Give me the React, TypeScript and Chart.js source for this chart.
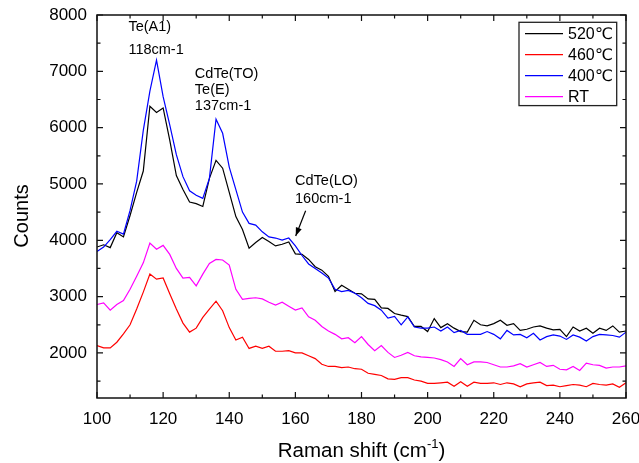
import React, { useEffect, useRef } from "react";
import { Chart, registerables } from "chart.js";

Chart.register(...registerables);

// Raman shift (cm-1)
const ramanShift = [
  100, 102, 104, 106, 108, 110, 112, 114, 116, 118, 120, 122, 124, 126, 128, 130, 132, 134, 136, 138,
  140, 142, 144, 146, 148, 150, 152, 154, 156, 158, 160, 162, 164, 166, 168, 170, 172, 174, 176, 178,
  180, 182, 184, 186, 188, 190, 192, 194, 196, 198, 200, 202, 204, 206, 208, 210, 212, 214, 216, 218,
  220, 222, 224, 226, 228, 230, 232, 234, 236, 238, 240, 242, 244, 246, 248, 250, 252, 254, 256, 258, 260,
];

const counts520 = [
  3880, 3920, 3870, 4135, 4060, 4440, 4850, 5230, 6380, 6270, 6350, 5780, 5150, 4900, 4680, 4650, 4600, 5100, 5420, 5280,
  4850, 4420, 4190, 3860, 3960, 4050, 3980, 3900, 3930, 3970, 3760, 3750, 3660, 3530, 3470, 3360, 3090, 3200, 3130, 3060,
  3050, 2960, 2950, 2800, 2790, 2700, 2670, 2645, 2470, 2470, 2380, 2610, 2450, 2520, 2440, 2380, 2370, 2580, 2500, 2480,
  2520, 2580, 2490, 2520, 2400, 2420, 2460, 2480, 2440, 2410, 2420, 2290, 2460, 2390, 2440, 2350, 2440, 2400, 2480, 2370, 2390,
];

const counts460 = [
  2130, 2090, 2090, 2190, 2340, 2500, 2780, 3080, 3400, 3310, 3330, 3050, 2780, 2530, 2370, 2440, 2630, 2780, 2920, 2750,
  2450, 2230, 2280, 2080, 2120, 2080, 2120, 2030, 2030, 2040, 2000, 2000, 1950, 1900, 1800, 1760, 1760, 1740, 1750, 1720,
  1710, 1640, 1620, 1600, 1540, 1530, 1560, 1560, 1520, 1500, 1460, 1460, 1470, 1480, 1410, 1490, 1410, 1480, 1460, 1460,
  1470, 1440, 1470, 1450, 1400, 1450, 1470, 1480, 1420, 1430, 1400, 1420, 1440, 1430, 1400, 1460, 1440, 1430, 1450, 1390, 1470,
];

const counts400 = [
  3800, 3880, 4010, 4160, 4110, 4530, 5050, 5950, 6650, 7200, 6550, 6050, 5520, 5130, 4880, 4800, 4745, 5100, 6150, 5900,
  5300, 4900, 4500, 4300, 4270, 4150, 4060, 4040, 4005, 4040, 3900, 3730, 3580, 3500, 3420, 3330, 3130, 3090, 3110, 3060,
  2980, 2880, 2840, 2760, 2620, 2650, 2500, 2640, 2460, 2440, 2440, 2460, 2390, 2460, 2360, 2400, 2330, 2330, 2330, 2380,
  2330, 2250, 2400, 2320, 2330, 2270, 2350, 2230, 2290, 2320, 2300, 2240, 2320, 2280, 2210, 2290, 2330, 2320, 2310, 2280, 2370,
];

const countsRT = [
  2860, 2890, 2760, 2860, 2930, 3130, 3360, 3600, 3950, 3840, 3910, 3750, 3500, 3330, 3340, 3190, 3400, 3590, 3660, 3650,
  3560, 3130, 2950, 2970, 2980, 2960, 2900, 2850, 2900, 2830, 2760, 2800, 2640, 2580, 2470, 2390, 2330, 2250, 2270, 2180,
  2290, 2150, 2040, 2130, 2010, 1920, 1960, 2010, 1950, 1930, 1920, 1910, 1880, 1840, 1760, 1900, 1790, 1840, 1840, 1830,
  1790, 1750, 1750, 1770, 1810, 1750, 1790, 1830, 1760, 1780, 1710, 1700, 1760, 1690, 1820, 1790, 1780, 1730, 1750, 1750, 1770,
];

const seriesLabels = ["520℃", "460℃", "400℃", "RT"];
const seriesColors = ["#000000", "#ff0000", "#0000ff", "#ff00ff"];

const xTicks = [100, 120, 140, 160, 180, 200, 220, 240, 260];
const yTicks = [2000, 3000, 4000, 5000, 6000, 7000, 8000];
const xMin = 100;
const xMax = 260;
const yMin = 1200;
const yMax = 8000;

// Peak annotations (anchored in data coordinates)
const noteTexts = ["Te(A1)", "118cm-1", "CdTe(TO)", "Te(E)", "137cm-1", "CdTe(LO)", "160cm-1"];
const noteX = [109.5, 109.5, 129.6, 129.6, 129.6, 159.9, 159.9];
const noteY = [7711, 7303, 6890, 6606, 6310, 4980, 4656];
const arrowFrom = [163.1, 4525];
const arrowTo = [160.1, 4075];

const FONT = "'Liberation Sans', Arial, 'DejaVu Sans', sans-serif";

function toPoints(values: number[]) {
  return values.map((v, i) => ({ x: ramanShift[i], y: v }));
}

const decorPlugin = {
  id: "decor",
  afterDatasetsDraw(chart: any) {
    const { ctx, chartArea: a, scales } = chart;
    const xs = scales.x;
    const ys = scales.y;
    ctx.save();

    // frame
    ctx.strokeStyle = "#111";
    ctx.lineWidth = 1.5;
    ctx.strokeRect(a.left, a.top, a.right - a.left, a.bottom - a.top);

    // ticks (inward, all four sides)
    ctx.lineWidth = 1.2;
    const majorLen = 6;
    const minorLen = 3.5;
    const xMinor: number[] = [];
    for (let i = 0; i < xTicks.length - 1; i++) xMinor.push((xTicks[i] + xTicks[i + 1]) / 2);
    const yMinor: number[] = [1500];
    for (let i = 0; i < yTicks.length - 1; i++) yMinor.push((yTicks[i] + yTicks[i + 1]) / 2);

    ctx.beginPath();
    xTicks.forEach((v) => {
      const px = xs.getPixelForValue(v);
      ctx.moveTo(px, a.bottom);
      ctx.lineTo(px, a.bottom - majorLen);
      ctx.moveTo(px, a.top);
      ctx.lineTo(px, a.top + majorLen);
    });
    xMinor.forEach((v) => {
      const px = xs.getPixelForValue(v);
      ctx.moveTo(px, a.bottom);
      ctx.lineTo(px, a.bottom - minorLen);
      ctx.moveTo(px, a.top);
      ctx.lineTo(px, a.top + minorLen);
    });
    yTicks.forEach((v) => {
      const py = ys.getPixelForValue(v);
      ctx.moveTo(a.left, py);
      ctx.lineTo(a.left + majorLen, py);
      ctx.moveTo(a.right, py);
      ctx.lineTo(a.right - majorLen, py);
    });
    yMinor.forEach((v) => {
      const py = ys.getPixelForValue(v);
      ctx.moveTo(a.left, py);
      ctx.lineTo(a.left + minorLen, py);
      ctx.moveTo(a.right, py);
      ctx.lineTo(a.right - minorLen, py);
    });
    ctx.stroke();

    // annotations
    ctx.fillStyle = "#000";
    ctx.font = `14.5px ${FONT}`;
    ctx.textAlign = "left";
    ctx.textBaseline = "alphabetic";
    noteTexts.forEach((t, i) => {
      ctx.fillText(t, xs.getPixelForValue(noteX[i]), ys.getPixelForValue(noteY[i]));
    });

    // arrow
    const x0 = xs.getPixelForValue(arrowFrom[0]);
    const y0 = ys.getPixelForValue(arrowFrom[1]);
    const x1 = xs.getPixelForValue(arrowTo[0]);
    const y1 = ys.getPixelForValue(arrowTo[1]);
    ctx.strokeStyle = "#000";
    ctx.lineWidth = 1.2;
    ctx.beginPath();
    ctx.moveTo(x0, y0);
    ctx.lineTo(x1, y1);
    ctx.stroke();
    const ang = Math.atan2(y1 - y0, x1 - x0);
    const hl = 9;
    const hw = 0.35;
    ctx.beginPath();
    ctx.moveTo(x1, y1);
    ctx.lineTo(x1 - hl * Math.cos(ang - hw), y1 - hl * Math.sin(ang - hw));
    ctx.lineTo(x1 - hl * Math.cos(ang + hw), y1 - hl * Math.sin(ang + hw));
    ctx.closePath();
    ctx.fill();

    // legend
    const boxRight = a.right - 9.3;
    const boxLeft = boxRight - 97.7;
    const boxTop = a.top + 7.3;
    const boxH = 83.3;
    ctx.fillStyle = "#fff";
    ctx.fillRect(boxLeft, boxTop, boxRight - boxLeft, boxH);
    ctx.strokeStyle = "#222";
    ctx.lineWidth = 1.3;
    ctx.strokeRect(boxLeft, boxTop, boxRight - boxLeft, boxH);
    ctx.font = `16px ${FONT}`;
    ctx.textBaseline = "middle";
    seriesLabels.forEach((lab, i) => {
      const cy = boxTop + 11.3 + i * 21;
      ctx.strokeStyle = seriesColors[i];
      ctx.lineWidth = 1.2;
      ctx.beginPath();
      ctx.moveTo(boxLeft + 6, cy);
      ctx.lineTo(boxLeft + 44, cy);
      ctx.stroke();
      ctx.fillStyle = "#000";
      ctx.fillText(lab, boxLeft + 49, cy + 0.5);
    });

    // axis titles
    ctx.fillStyle = "#000";
    ctx.font = `20px ${FONT}`;
    ctx.save();
    ctx.translate(22, 216);
    ctx.rotate(-Math.PI / 2);
    ctx.textAlign = "center";
    ctx.textBaseline = "middle";
    ctx.fillText("Counts", 0, 0);
    ctx.restore();

    const cx = (a.left + a.right) / 2;
    const base = 456.5;
    ctx.textBaseline = "alphabetic";
    ctx.textAlign = "left";
    const mainFont = `20.5px ${FONT}`;
    const supFont = `13px ${FONT}`;
    ctx.font = mainFont;
    const p1 = "Raman shift (cm";
    const w1 = ctx.measureText(p1).width;
    ctx.font = supFont;
    const sup = "-1";
    const w2 = ctx.measureText(sup).width;
    ctx.font = mainFont;
    const p3 = ")";
    const w3 = ctx.measureText(p3).width;
    let sx = cx - (w1 + w2 + w3) / 2;
    ctx.fillText(p1, sx, base);
    sx += w1;
    ctx.font = supFont;
    ctx.fillText(sup, sx, base - 9);
    sx += w2;
    ctx.font = mainFont;
    ctx.fillText(p3, sx, base);

    ctx.restore();
  },
};

function zeroPadding(s: any) {
  s.paddingLeft = 0;
  s.paddingRight = 0;
  s.paddingTop = 0;
  s.paddingBottom = 0;
}

export default function App() {
  const canvasRef = useRef<HTMLCanvasElement | null>(null);

  useEffect(() => {
    if (!canvasRef.current) return;
    const chart = new Chart(canvasRef.current, {
      type: "line",
      data: {
        datasets: [
          { label: seriesLabels[2], data: toPoints(counts400), borderColor: seriesColors[2] },
          { label: seriesLabels[0], data: toPoints(counts520), borderColor: seriesColors[0] },
          { label: seriesLabels[3], data: toPoints(countsRT), borderColor: seriesColors[3] },
          { label: seriesLabels[1], data: toPoints(counts460), borderColor: seriesColors[1] },
        ].map((d) => ({
          ...d,
          borderWidth: 1.2,
          pointRadius: 0,
          tension: 0,
          fill: false,
        })),
      },
      options: {
        animation: false,
        responsive: false,
        devicePixelRatio: 1,
        layout: { padding: { top: 15, right: 13, left: 0, bottom: 0 } },
        plugins: {
          legend: { display: false },
          tooltip: { enabled: false },
        },
        scales: {
          x: {
            type: "linear",
            min: xMin,
            max: xMax,
            afterBuildTicks: (s: any) => {
              s.ticks = xTicks.map((v) => ({ value: v }));
            },
            afterFit: (s: any) => {
              s.height = 65;
              zeroPadding(s);
            },
            grid: { display: false, drawTicks: false },
            border: { display: false },
            ticks: {
              padding: 11,
              color: "#000",
              font: { family: FONT, size: 17 },
              maxRotation: 0,
              autoSkip: false,
              callback: (v: any) => String(v),
            },
          },
          y: {
            type: "linear",
            min: yMin,
            max: yMax,
            afterBuildTicks: (s: any) => {
              s.ticks = yTicks.map((v) => ({ value: v }));
            },
            afterFit: (s: any) => {
              s.width = 97;
              zeroPadding(s);
            },
            grid: { display: false, drawTicks: false },
            border: { display: false },
            ticks: {
              padding: 10,
              color: "#000",
              font: { family: FONT, size: 17 },
              autoSkip: false,
              callback: (v: any) => String(v),
            },
          },
        },
      },
      plugins: [decorPlugin],
    });
    return () => chart.destroy();
  }, []);

  return (
    <div style={{ position: "absolute", left: 0, top: 0, width: 639, height: 463, background: "#fff" }}>
      <canvas ref={canvasRef} width={639} height={463} />
    </div>
  );
}
